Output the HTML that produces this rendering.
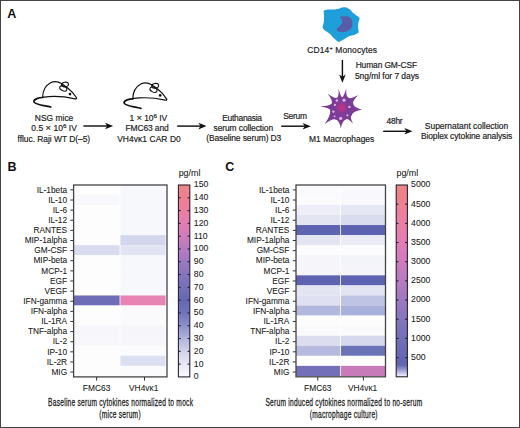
<!DOCTYPE html>
<html><head><meta charset="utf-8"><style>
html,body{margin:0;padding:0;background:#fff;width:520px;height:428px;overflow:hidden;font-family:"Liberation Sans",sans-serif;}
svg{display:block;}
</style></head><body>
<svg width="520" height="428" viewBox="0 0 520 428" font-family='"Liberation Sans", sans-serif'><rect x="0.5" y="0.5" width="519" height="427" fill="#fff" stroke="#444" stroke-width="1"/>
<text x="7.3" y="17.8" font-size="12.5" text-anchor="start" font-weight="bold" fill="#111" >A</text>
<text x="7.5" y="171.2" font-size="12.5" text-anchor="start" font-weight="bold" fill="#111" >B</text>
<text x="225.3" y="171.2" font-size="12.5" text-anchor="start" font-weight="bold" fill="#111" >C</text>
<line x1="83.4" y1="126" x2="108.2" y2="126" stroke="#111" stroke-width="1.45"/>
<path d="M113.2,126 L105.0,122.7 L107.2,126 L105.0,129.3 Z" fill="#111"/>
<line x1="177.2" y1="126.1" x2="201.5" y2="126.1" stroke="#111" stroke-width="1.45"/>
<path d="M206.5,126.1 L198.3,122.8 L200.5,126.1 L198.3,129.4 Z" fill="#111"/>
<line x1="281.3" y1="126.2" x2="305.8" y2="126.2" stroke="#111" stroke-width="1.45"/>
<path d="M310.8,126.2 L302.6,122.9 L304.8,126.2 L302.6,129.5 Z" fill="#111"/>
<line x1="383.2" y1="131.3" x2="407.5" y2="131.3" stroke="#111" stroke-width="1.45"/>
<path d="M412.5,131.3 L404.3,128.0 L406.5,131.3 L404.3,134.60000000000002 Z" fill="#111"/>
<line x1="342.4" y1="59.9" x2="342.4" y2="77.8" stroke="#111" stroke-width="1.45"/>
<path d="M342.4,82.8 L339.09999999999997,74.6 L342.4,76.8 L345.7,74.6 Z" fill="#111"/>
<g transform="translate(0.1,0.6)">
<g fill="none" stroke="#111" stroke-linecap="round" stroke-linejoin="round">
<path stroke-width="1.2" d="M42.5,96.8 C42.6,90 45.5,84.8 50.5,82.1 C54,80.5 58.2,80.9 61.3,82.9 C63.5,84.4 65.5,85.8 67.6,87.4 C71,90 74.3,93.8 76.4,97.2 C76.8,98 76.2,98.5 75,98.3 C68,96.7 58,95.5 49,96 C46.5,96.2 44.5,96.5 42.5,96.8"/>

<path stroke-width="1.75" d="M42.5,96.9 C38.5,97 34.4,98.6 33.7,100.5 C33.6,102.6 38,104 43.5,105 C46.2,105.5 48.5,106 50.6,106.4"/>
<ellipse cx="64.9" cy="83.9" rx="3.5" ry="2.3" transform="rotate(-12 64.9 83.9)" stroke-width="1.1"/>
<ellipse cx="63.2" cy="87.8" rx="3.7" ry="2.4" transform="rotate(25 63.2 87.8)" stroke-width="1.1"/>
</g>
<circle cx="69.9" cy="93.5" r="1.35" fill="#111"/>
</g>
<g transform="translate(90.3,1.9)">
<g fill="none" stroke="#111" stroke-linecap="round" stroke-linejoin="round">
<path stroke-width="1.2" d="M42.5,96.8 C42.6,90 45.5,84.8 50.5,82.1 C54,80.5 58.2,80.9 61.3,82.9 C63.5,84.4 65.5,85.8 67.6,87.4 C71,90 74.3,93.8 76.4,97.2 C76.8,98 76.2,98.5 75,98.3 C68,96.7 58,95.5 49,96 C46.5,96.2 44.5,96.5 42.5,96.8"/>

<path stroke-width="1.75" d="M42.5,96.9 C38.5,97 34.4,98.6 33.7,100.5 C33.6,102.6 38,104 43.5,105 C46.2,105.5 48.5,106 50.6,106.4"/>
<ellipse cx="64.9" cy="83.9" rx="3.5" ry="2.3" transform="rotate(-12 64.9 83.9)" stroke-width="1.1"/>
<ellipse cx="63.2" cy="87.8" rx="3.7" ry="2.4" transform="rotate(25 63.2 87.8)" stroke-width="1.1"/>
</g>
<circle cx="69.9" cy="93.5" r="1.35" fill="#111"/>
</g>
<path d="M323.90,10.70 C324.28,10.28 324.98,9.92 326.00,9.70 C327.02,9.48 328.67,9.45 330.00,9.40 C331.33,9.35 332.75,9.45 334.00,9.40 C335.25,9.35 336.50,9.28 337.50,9.10 C338.50,8.92 339.18,8.55 340.00,8.30 C340.82,8.05 341.57,7.77 342.40,7.60 C343.23,7.43 344.15,7.23 345.00,7.30 C345.85,7.37 346.65,7.62 347.50,8.00 C348.35,8.38 349.20,8.80 350.10,9.60 C351.00,10.40 351.78,11.77 352.90,12.80 C354.02,13.83 355.70,14.93 356.80,15.80 C357.90,16.67 359.13,17.17 359.50,18.00 C359.87,18.83 359.22,19.87 359.00,20.80 C358.78,21.73 358.35,22.48 358.20,23.60 C358.05,24.72 358.03,26.27 358.10,27.50 C358.17,28.73 358.55,30.12 358.60,31.00 C358.65,31.88 359.17,32.15 358.40,32.80 C357.63,33.45 355.48,34.37 354.00,34.90 C352.52,35.43 350.90,35.43 349.50,36.00 C348.10,36.57 346.88,37.53 345.60,38.30 C344.32,39.07 342.83,40.02 341.80,40.60 C340.77,41.18 340.10,41.63 339.40,41.80 C338.70,41.97 338.23,41.93 337.60,41.60 C336.97,41.27 336.40,40.53 335.60,39.80 C334.80,39.07 333.65,38.08 332.80,37.20 C331.95,36.32 331.38,35.32 330.50,34.50 C329.62,33.68 328.62,33.12 327.50,32.30 C326.38,31.48 324.62,30.52 323.80,29.60 C322.98,28.68 322.67,27.73 322.60,26.80 C322.53,25.87 323.17,25.13 323.40,24.00 C323.63,22.87 323.90,21.50 324.00,20.00 C324.10,18.50 324.05,16.30 324.00,15.00 C323.95,13.70 323.72,12.92 323.70,12.20 C323.68,11.48 323.52,11.12 323.90,10.70 Z" fill="#1f9fda"/>
<path d="M340.10,16.90 C340.68,16.40 343.65,16.20 345.30,16.30 C346.95,16.40 348.82,16.52 350.00,17.50 C351.18,18.48 352.20,20.35 352.40,22.20 C352.60,24.05 352.18,27.05 351.20,28.60 C350.22,30.15 348.07,30.92 346.50,31.50 C344.93,32.08 343.28,32.20 341.80,32.10 C340.32,32.00 338.43,31.45 337.60,30.90 C336.77,30.35 336.38,29.65 336.80,28.80 C337.22,27.95 339.20,26.80 340.10,25.80 C341.00,24.80 341.92,23.88 342.20,22.80 C342.48,21.72 342.15,20.28 341.80,19.30 C341.45,18.32 339.52,17.40 340.10,16.90 Z" fill="#585ea6"/>
<defs><radialGradient id="mg" cx="0.5" cy="0.5" r="0.5"><stop offset="0" stop-color="#bf3489"/><stop offset="0.4" stop-color="#a9378e"/><stop offset="1" stop-color="#7b3c98" stop-opacity="0"/></radialGradient></defs>
<path d="M338.60,88.40 Q340.52,96.42 342.20,97.20 Q343.75,96.42 346.30,88.40 Q345.67,96.60 348.60,97.80 Q350.71,99.41 358.30,95.10 Q352.09,101.21 353.20,103.80 Q353.65,107.34 362.00,109.70 Q353.17,110.82 351.60,115.40 Q349.47,116.74 353.20,123.80 Q347.79,117.94 346.00,119.40 Q342.58,119.88 340.80,128.40 Q339.40,119.88 335.40,119.40 Q332.56,118.15 324.50,124.30 Q331.00,115.33 330.20,110.00 Q329.23,107.90 320.30,106.60 Q329.71,105.98 331.80,103.60 Q332.78,100.48 327.60,93.50 Q334.34,98.74 337.00,97.80 Q338.96,96.60 338.60,88.40 Z" fill="#7a3c98"/>
<circle cx="341.6" cy="107.6" r="8" fill="url(#mg)"/>
<circle cx="344" cy="100.2" r="1.6" fill="#e4b3ea"/>
<circle cx="336.9" cy="100.5" r="1.2" fill="#e4b3ea"/>
<circle cx="334.9" cy="104.9" r="1.1" fill="#e4b3ea"/>
<circle cx="333.3" cy="111.6" r="1.2" fill="#e4b3ea"/>
<circle cx="334.6" cy="116.3" r="0.9" fill="#e4b3ea"/>
<circle cx="340.7" cy="118.4" r="1.6" fill="#e4b3ea"/>
<circle cx="347.4" cy="115.3" r="1.1" fill="#e4b3ea"/>
<circle cx="349.4" cy="106.9" r="1.2" fill="#e4b3ea"/>
<text x="54.1" y="121.3" font-size="8.45" text-anchor="middle" font-weight="normal" fill="#222" stroke="#222" stroke-width="0.18" letter-spacing="-0.0">NSG mice</text>
<text x="54.1" y="131.4" font-size="8.45" text-anchor="middle" font-weight="normal" fill="#222" stroke="#222" stroke-width="0.18" letter-spacing="0.036">0.5 <tspan font-size="9.3">×</tspan> 10<tspan dy="-3.3" font-size="6.2">6</tspan><tspan dy="3.3"> IV</tspan></text>
<text x="53.8" y="141.5" font-size="8.45" text-anchor="middle" font-weight="normal" fill="#222" stroke="#222" stroke-width="0.18" letter-spacing="-0.032">ffluc. Raji WT D(–5)</text>
<text x="148.3" y="121.2" font-size="8.45" text-anchor="middle" font-weight="normal" fill="#222" stroke="#222" stroke-width="0.18" letter-spacing="-0.022">1 <tspan font-size="9.3">×</tspan> 10<tspan dy="-3.3" font-size="6.2">6</tspan><tspan dy="3.3"> IV</tspan></text>
<text x="147.0" y="131.3" font-size="8.45" text-anchor="middle" font-weight="normal" fill="#222" stroke="#222" stroke-width="0.18" letter-spacing="-0.1">FMC63 and</text>
<text x="149.0" y="141.5" font-size="8.45" text-anchor="middle" font-weight="normal" fill="#222" stroke="#222" stroke-width="0.18" letter-spacing="0.067">VH4vκ1 CAR D0</text>
<text x="242.0" y="120.8" font-size="8.45" text-anchor="middle" font-weight="normal" fill="#222" stroke="#222" stroke-width="0.18" letter-spacing="-0.267">Euthanasia</text>
<text x="243.3" y="131.1" font-size="8.45" text-anchor="middle" font-weight="normal" fill="#222" stroke="#222" stroke-width="0.18" letter-spacing="-0.093">serum collection</text>
<text x="243.7" y="141.3" font-size="8.45" text-anchor="middle" font-weight="normal" fill="#222" stroke="#222" stroke-width="0.18" letter-spacing="-0.1">(Baseline serum) D3</text>
<text x="295.0" y="119.1" font-size="8.45" text-anchor="middle" font-weight="normal" fill="#222" stroke="#222" stroke-width="0.18" letter-spacing="-0.25">Serum</text>
<text x="341.7" y="141.8" font-size="8.45" text-anchor="middle" font-weight="normal" fill="#222" stroke="#222" stroke-width="0.18" letter-spacing="0.0">M1 Macrophages</text>
<text x="342.25" y="52.9" font-size="8.45" text-anchor="middle" font-weight="normal" fill="#222" stroke="#222" stroke-width="0.18" letter-spacing="0.129">CD14<tspan dy="-3.0" font-size="5.6">+</tspan><tspan dy="3.0"> Monocytes</tspan></text>
<text x="386.3" y="68.4" font-size="8.45" text-anchor="middle" font-weight="normal" fill="#222" stroke="#222" stroke-width="0.18" letter-spacing="-0.127">Human GM-CSF</text>
<text x="387.0" y="79.1" font-size="8.45" text-anchor="middle" font-weight="normal" fill="#222" stroke="#222" stroke-width="0.18" letter-spacing="-0.038">5ng/ml for 7 days</text>
<text x="394.5" y="123.8" font-size="8.45" text-anchor="middle" font-weight="normal" fill="#222" stroke="#222" stroke-width="0.18" letter-spacing="-0.267">48hr</text>
<text x="466.5" y="128.6" font-size="8.45" text-anchor="middle" font-weight="normal" fill="#222" stroke="#222" stroke-width="0.18" letter-spacing="-0.01">Supernatant collection</text>
<text x="466.5" y="138.8" font-size="8.45" text-anchor="middle" font-weight="normal" fill="#222" stroke="#222" stroke-width="0.18" letter-spacing="-0.108">Bioplex cytokine analysis</text>
<rect x="73.6" y="184.80" width="46.00" height="10.11" fill="#fdfdfe"/>
<rect x="120.4" y="184.80" width="45.20" height="10.11" fill="#f7f8fc"/>
<rect x="73.6" y="194.86" width="46.00" height="10.11" fill="#f8f8fc"/>
<rect x="120.4" y="194.86" width="45.20" height="10.11" fill="#f7f8fc"/>
<rect x="73.6" y="204.92" width="46.00" height="10.11" fill="#fdfdfe"/>
<rect x="120.4" y="204.92" width="45.20" height="10.11" fill="#f7f8fc"/>
<rect x="73.6" y="214.98" width="46.00" height="10.11" fill="#fdfdfe"/>
<rect x="120.4" y="214.98" width="45.20" height="10.11" fill="#f7f8fc"/>
<rect x="73.6" y="225.04" width="46.00" height="10.11" fill="#fdfdfe"/>
<rect x="120.4" y="225.04" width="45.20" height="10.11" fill="#f7f8fc"/>
<rect x="73.6" y="235.10" width="46.00" height="10.11" fill="#fdfdfe"/>
<rect x="120.4" y="235.10" width="45.20" height="10.11" fill="#d4d6ed"/>
<rect x="73.6" y="245.16" width="46.00" height="10.11" fill="#d9dbef"/>
<rect x="120.4" y="245.16" width="45.20" height="10.11" fill="#e3e4f3"/>
<rect x="73.6" y="255.22" width="46.00" height="10.11" fill="#fdfdfe"/>
<rect x="120.4" y="255.22" width="45.20" height="10.11" fill="#f7f8fc"/>
<rect x="73.6" y="265.28" width="46.00" height="10.11" fill="#fdfdfe"/>
<rect x="120.4" y="265.28" width="45.20" height="10.11" fill="#f7f8fc"/>
<rect x="73.6" y="275.34" width="46.00" height="10.11" fill="#fdfdfe"/>
<rect x="120.4" y="275.34" width="45.20" height="10.11" fill="#f7f8fc"/>
<rect x="73.6" y="285.40" width="46.00" height="10.11" fill="#fdfdfe"/>
<rect x="120.4" y="285.40" width="45.20" height="10.11" fill="#f7f8fc"/>
<rect x="73.6" y="295.46" width="46.00" height="10.11" fill="#6e6cb6"/>
<rect x="120.4" y="295.46" width="45.20" height="10.11" fill="#e884b4"/>
<rect x="73.6" y="305.52" width="46.00" height="10.11" fill="#fdfdfe"/>
<rect x="120.4" y="305.52" width="45.20" height="10.11" fill="#fafafd"/>
<rect x="73.6" y="315.58" width="46.00" height="10.11" fill="#fdfdfe"/>
<rect x="120.4" y="315.58" width="45.20" height="10.11" fill="#fafafd"/>
<rect x="73.6" y="325.64" width="46.00" height="10.11" fill="#f6f6fb"/>
<rect x="120.4" y="325.64" width="45.20" height="10.11" fill="#f5f5fa"/>
<rect x="73.6" y="335.70" width="46.00" height="10.11" fill="#f8f8fc"/>
<rect x="120.4" y="335.70" width="45.20" height="10.11" fill="#f7f7fb"/>
<rect x="73.6" y="345.76" width="46.00" height="10.11" fill="#fdfdfe"/>
<rect x="120.4" y="345.76" width="45.20" height="10.11" fill="#fbfbfe"/>
<rect x="73.6" y="355.82" width="46.00" height="10.11" fill="#fdfdfe"/>
<rect x="120.4" y="355.82" width="45.20" height="10.11" fill="#dcdff1"/>
<rect x="73.6" y="365.88" width="46.00" height="10.11" fill="#fdfdfe"/>
<rect x="120.4" y="365.88" width="45.20" height="10.11" fill="#fbfbfe"/>
<line x1="70.3" y1="189.90" x2="73.6" y2="189.90" stroke="#333" stroke-width="1"/>
<text x="67.1" y="192.60" font-size="8.3" text-anchor="end" font-weight="normal" fill="#222" stroke="#222" stroke-width="0.08" >IL-1beta</text>
<line x1="70.3" y1="200.02" x2="73.6" y2="200.02" stroke="#333" stroke-width="1"/>
<text x="67.1" y="202.72" font-size="8.3" text-anchor="end" font-weight="normal" fill="#222" stroke="#222" stroke-width="0.08" >IL-10</text>
<line x1="70.3" y1="210.14" x2="73.6" y2="210.14" stroke="#333" stroke-width="1"/>
<text x="67.1" y="212.84" font-size="8.3" text-anchor="end" font-weight="normal" fill="#222" stroke="#222" stroke-width="0.08" >IL-6</text>
<line x1="70.3" y1="220.26" x2="73.6" y2="220.26" stroke="#333" stroke-width="1"/>
<text x="67.1" y="222.96" font-size="8.3" text-anchor="end" font-weight="normal" fill="#222" stroke="#222" stroke-width="0.08" >IL-12</text>
<line x1="70.3" y1="230.38" x2="73.6" y2="230.38" stroke="#333" stroke-width="1"/>
<text x="67.1" y="233.08" font-size="8.3" text-anchor="end" font-weight="normal" fill="#222" stroke="#222" stroke-width="0.08" >RANTES</text>
<line x1="70.3" y1="240.50" x2="73.6" y2="240.50" stroke="#333" stroke-width="1"/>
<text x="67.1" y="243.20" font-size="8.3" text-anchor="end" font-weight="normal" fill="#222" stroke="#222" stroke-width="0.08" >MIP-1alpha</text>
<line x1="70.3" y1="250.62" x2="73.6" y2="250.62" stroke="#333" stroke-width="1"/>
<text x="67.1" y="253.32" font-size="8.3" text-anchor="end" font-weight="normal" fill="#222" stroke="#222" stroke-width="0.08" >GM-CSF</text>
<line x1="70.3" y1="260.74" x2="73.6" y2="260.74" stroke="#333" stroke-width="1"/>
<text x="67.1" y="263.44" font-size="8.3" text-anchor="end" font-weight="normal" fill="#222" stroke="#222" stroke-width="0.08" >MIP-beta</text>
<line x1="70.3" y1="270.86" x2="73.6" y2="270.86" stroke="#333" stroke-width="1"/>
<text x="67.1" y="273.56" font-size="8.3" text-anchor="end" font-weight="normal" fill="#222" stroke="#222" stroke-width="0.08" >MCP-1</text>
<line x1="70.3" y1="280.98" x2="73.6" y2="280.98" stroke="#333" stroke-width="1"/>
<text x="67.1" y="283.68" font-size="8.3" text-anchor="end" font-weight="normal" fill="#222" stroke="#222" stroke-width="0.08" >EGF</text>
<line x1="70.3" y1="291.10" x2="73.6" y2="291.10" stroke="#333" stroke-width="1"/>
<text x="67.1" y="293.80" font-size="8.3" text-anchor="end" font-weight="normal" fill="#222" stroke="#222" stroke-width="0.08" >VEGF</text>
<line x1="70.3" y1="301.22" x2="73.6" y2="301.22" stroke="#333" stroke-width="1"/>
<text x="67.1" y="303.92" font-size="8.3" text-anchor="end" font-weight="normal" fill="#222" stroke="#222" stroke-width="0.08" >IFN-gamma</text>
<line x1="70.3" y1="311.34" x2="73.6" y2="311.34" stroke="#333" stroke-width="1"/>
<text x="67.1" y="314.04" font-size="8.3" text-anchor="end" font-weight="normal" fill="#222" stroke="#222" stroke-width="0.08" >IFN-alpha</text>
<line x1="70.3" y1="321.46" x2="73.6" y2="321.46" stroke="#333" stroke-width="1"/>
<text x="67.1" y="324.16" font-size="8.3" text-anchor="end" font-weight="normal" fill="#222" stroke="#222" stroke-width="0.08" >IL-1RA</text>
<line x1="70.3" y1="331.58" x2="73.6" y2="331.58" stroke="#333" stroke-width="1"/>
<text x="67.1" y="334.28" font-size="8.3" text-anchor="end" font-weight="normal" fill="#222" stroke="#222" stroke-width="0.08" >TNF-alpha</text>
<line x1="70.3" y1="341.70" x2="73.6" y2="341.70" stroke="#333" stroke-width="1"/>
<text x="67.1" y="344.40" font-size="8.3" text-anchor="end" font-weight="normal" fill="#222" stroke="#222" stroke-width="0.08" >IL-2</text>
<line x1="70.3" y1="351.82" x2="73.6" y2="351.82" stroke="#333" stroke-width="1"/>
<text x="67.1" y="354.52" font-size="8.3" text-anchor="end" font-weight="normal" fill="#222" stroke="#222" stroke-width="0.08" >IP-10</text>
<line x1="70.3" y1="361.94" x2="73.6" y2="361.94" stroke="#333" stroke-width="1"/>
<text x="67.1" y="364.64" font-size="8.3" text-anchor="end" font-weight="normal" fill="#222" stroke="#222" stroke-width="0.08" >IL-2R</text>
<line x1="70.3" y1="372.06" x2="73.6" y2="372.06" stroke="#333" stroke-width="1"/>
<text x="67.1" y="374.76" font-size="8.3" text-anchor="end" font-weight="normal" fill="#222" stroke="#222" stroke-width="0.08" >MIG</text>
<rect x="73.6" y="185.0" width="93.4" height="191.89999999999998" fill="none" stroke="#444" stroke-width="1.3"/>
<rect x="296.0" y="184.80" width="44.20" height="10.11" fill="#fafafd"/>
<rect x="341.0" y="184.80" width="44.50" height="10.11" fill="#f9f9fd"/>
<rect x="296.0" y="194.86" width="44.20" height="10.11" fill="#fbfbfe"/>
<rect x="341.0" y="194.86" width="44.50" height="10.11" fill="#f9f9fd"/>
<rect x="296.0" y="204.92" width="44.20" height="10.11" fill="#eeeef8"/>
<rect x="341.0" y="204.92" width="44.50" height="10.11" fill="#e6e7f4"/>
<rect x="296.0" y="214.98" width="44.20" height="10.11" fill="#e4e5f3"/>
<rect x="341.0" y="214.98" width="44.50" height="10.11" fill="#d9dcef"/>
<rect x="296.0" y="225.04" width="44.20" height="10.11" fill="#5e63b1"/>
<rect x="341.0" y="225.04" width="44.50" height="10.11" fill="#5e63b1"/>
<rect x="296.0" y="235.10" width="44.20" height="10.11" fill="#e3e4f2"/>
<rect x="341.0" y="235.10" width="44.50" height="10.11" fill="#ebebf6"/>
<rect x="296.0" y="245.16" width="44.20" height="10.11" fill="#fcfcfe"/>
<rect x="341.0" y="245.16" width="44.50" height="10.11" fill="#fcfcfe"/>
<rect x="296.0" y="255.22" width="44.20" height="10.11" fill="#f5f5fa"/>
<rect x="341.0" y="255.22" width="44.50" height="10.11" fill="#f3f4fa"/>
<rect x="296.0" y="265.28" width="44.20" height="10.11" fill="#f5f5fa"/>
<rect x="341.0" y="265.28" width="44.50" height="10.11" fill="#f4f4fa"/>
<rect x="296.0" y="275.34" width="44.20" height="10.11" fill="#5e63b1"/>
<rect x="341.0" y="275.34" width="44.50" height="10.11" fill="#5e63b1"/>
<rect x="296.0" y="285.40" width="44.20" height="10.11" fill="#e4e5f3"/>
<rect x="341.0" y="285.40" width="44.50" height="10.11" fill="#e2e4f2"/>
<rect x="296.0" y="295.46" width="44.20" height="10.11" fill="#dfe0f1"/>
<rect x="341.0" y="295.46" width="44.50" height="10.11" fill="#c0c4e4"/>
<rect x="296.0" y="305.52" width="44.20" height="10.11" fill="#b2b7de"/>
<rect x="341.0" y="305.52" width="44.50" height="10.11" fill="#aab0dc"/>
<rect x="296.0" y="315.58" width="44.20" height="10.11" fill="#fdfdfe"/>
<rect x="341.0" y="315.58" width="44.50" height="10.11" fill="#fdfdfe"/>
<rect x="296.0" y="325.64" width="44.20" height="10.11" fill="#fafafd"/>
<rect x="341.0" y="325.64" width="44.50" height="10.11" fill="#fafafd"/>
<rect x="296.0" y="335.70" width="44.20" height="10.11" fill="#dcdef0"/>
<rect x="341.0" y="335.70" width="44.50" height="10.11" fill="#d6d9ee"/>
<rect x="296.0" y="345.76" width="44.20" height="10.11" fill="#b6badf"/>
<rect x="341.0" y="345.76" width="44.50" height="10.11" fill="#6a72b8"/>
<rect x="296.0" y="355.82" width="44.20" height="10.11" fill="#fdfdfe"/>
<rect x="341.0" y="355.82" width="44.50" height="10.11" fill="#fdfdfe"/>
<rect x="296.0" y="365.88" width="44.20" height="10.11" fill="#736fb8"/>
<rect x="341.0" y="365.88" width="44.50" height="10.11" fill="#c87bb9"/>
<line x1="292.8" y1="189.90" x2="296.0" y2="189.90" stroke="#333" stroke-width="1"/>
<text x="289.4" y="192.60" font-size="8.3" text-anchor="end" font-weight="normal" fill="#222" stroke="#222" stroke-width="0.08" >IL-1beta</text>
<line x1="292.8" y1="200.02" x2="296.0" y2="200.02" stroke="#333" stroke-width="1"/>
<text x="289.4" y="202.72" font-size="8.3" text-anchor="end" font-weight="normal" fill="#222" stroke="#222" stroke-width="0.08" >IL-10</text>
<line x1="292.8" y1="210.14" x2="296.0" y2="210.14" stroke="#333" stroke-width="1"/>
<text x="289.4" y="212.84" font-size="8.3" text-anchor="end" font-weight="normal" fill="#222" stroke="#222" stroke-width="0.08" >IL-6</text>
<line x1="292.8" y1="220.26" x2="296.0" y2="220.26" stroke="#333" stroke-width="1"/>
<text x="289.4" y="222.96" font-size="8.3" text-anchor="end" font-weight="normal" fill="#222" stroke="#222" stroke-width="0.08" >IL-12</text>
<line x1="292.8" y1="230.38" x2="296.0" y2="230.38" stroke="#333" stroke-width="1"/>
<text x="289.4" y="233.08" font-size="8.3" text-anchor="end" font-weight="normal" fill="#222" stroke="#222" stroke-width="0.08" >RANTES</text>
<line x1="292.8" y1="240.50" x2="296.0" y2="240.50" stroke="#333" stroke-width="1"/>
<text x="289.4" y="243.20" font-size="8.3" text-anchor="end" font-weight="normal" fill="#222" stroke="#222" stroke-width="0.08" >MIP-1alpha</text>
<line x1="292.8" y1="250.62" x2="296.0" y2="250.62" stroke="#333" stroke-width="1"/>
<text x="289.4" y="253.32" font-size="8.3" text-anchor="end" font-weight="normal" fill="#222" stroke="#222" stroke-width="0.08" >GM-CSF</text>
<line x1="292.8" y1="260.74" x2="296.0" y2="260.74" stroke="#333" stroke-width="1"/>
<text x="289.4" y="263.44" font-size="8.3" text-anchor="end" font-weight="normal" fill="#222" stroke="#222" stroke-width="0.08" >MIP-beta</text>
<line x1="292.8" y1="270.86" x2="296.0" y2="270.86" stroke="#333" stroke-width="1"/>
<text x="289.4" y="273.56" font-size="8.3" text-anchor="end" font-weight="normal" fill="#222" stroke="#222" stroke-width="0.08" >MCP-1</text>
<line x1="292.8" y1="280.98" x2="296.0" y2="280.98" stroke="#333" stroke-width="1"/>
<text x="289.4" y="283.68" font-size="8.3" text-anchor="end" font-weight="normal" fill="#222" stroke="#222" stroke-width="0.08" >EGF</text>
<line x1="292.8" y1="291.10" x2="296.0" y2="291.10" stroke="#333" stroke-width="1"/>
<text x="289.4" y="293.80" font-size="8.3" text-anchor="end" font-weight="normal" fill="#222" stroke="#222" stroke-width="0.08" >VEGF</text>
<line x1="292.8" y1="301.22" x2="296.0" y2="301.22" stroke="#333" stroke-width="1"/>
<text x="289.4" y="303.92" font-size="8.3" text-anchor="end" font-weight="normal" fill="#222" stroke="#222" stroke-width="0.08" >IFN-gamma</text>
<line x1="292.8" y1="311.34" x2="296.0" y2="311.34" stroke="#333" stroke-width="1"/>
<text x="289.4" y="314.04" font-size="8.3" text-anchor="end" font-weight="normal" fill="#222" stroke="#222" stroke-width="0.08" >IFN-alpha</text>
<line x1="292.8" y1="321.46" x2="296.0" y2="321.46" stroke="#333" stroke-width="1"/>
<text x="289.4" y="324.16" font-size="8.3" text-anchor="end" font-weight="normal" fill="#222" stroke="#222" stroke-width="0.08" >IL-1RA</text>
<line x1="292.8" y1="331.58" x2="296.0" y2="331.58" stroke="#333" stroke-width="1"/>
<text x="289.4" y="334.28" font-size="8.3" text-anchor="end" font-weight="normal" fill="#222" stroke="#222" stroke-width="0.08" >TNF-alpha</text>
<line x1="292.8" y1="341.70" x2="296.0" y2="341.70" stroke="#333" stroke-width="1"/>
<text x="289.4" y="344.40" font-size="8.3" text-anchor="end" font-weight="normal" fill="#222" stroke="#222" stroke-width="0.08" >IL-2</text>
<line x1="292.8" y1="351.82" x2="296.0" y2="351.82" stroke="#333" stroke-width="1"/>
<text x="289.4" y="354.52" font-size="8.3" text-anchor="end" font-weight="normal" fill="#222" stroke="#222" stroke-width="0.08" >IP-10</text>
<line x1="292.8" y1="361.94" x2="296.0" y2="361.94" stroke="#333" stroke-width="1"/>
<text x="289.4" y="364.64" font-size="8.3" text-anchor="end" font-weight="normal" fill="#222" stroke="#222" stroke-width="0.08" >IL-2R</text>
<line x1="292.8" y1="372.06" x2="296.0" y2="372.06" stroke="#333" stroke-width="1"/>
<text x="289.4" y="374.76" font-size="8.3" text-anchor="end" font-weight="normal" fill="#222" stroke="#222" stroke-width="0.08" >MIG</text>
<rect x="296.0" y="185.0" width="89.5" height="191.8" fill="none" stroke="#444" stroke-width="1.3"/>
<line x1="96.6" y1="377" x2="96.6" y2="380.6" stroke="#333" stroke-width="1"/>
<text x="96.6" y="390.5" font-size="8.4" text-anchor="middle" font-weight="normal" fill="#222" stroke="#222" stroke-width="0.08" >FMC63</text>
<line x1="144.5" y1="377" x2="144.5" y2="380.6" stroke="#333" stroke-width="1"/>
<text x="143.7" y="390.5" font-size="8.4" text-anchor="middle" font-weight="normal" fill="#222" stroke="#222" stroke-width="0.08" >VH4vκ1</text>
<line x1="317.8" y1="377" x2="317.8" y2="380.6" stroke="#333" stroke-width="1"/>
<text x="317.8" y="390.5" font-size="8.4" text-anchor="middle" font-weight="normal" fill="#222" stroke="#222" stroke-width="0.08" >FMC63</text>
<line x1="363.4" y1="377" x2="363.4" y2="380.6" stroke="#333" stroke-width="1"/>
<text x="362.59999999999997" y="390.5" font-size="8.4" text-anchor="middle" font-weight="normal" fill="#222" stroke="#222" stroke-width="0.08" >VH4vκ1</text>
<defs><linearGradient id="gB" x1="0" y1="1" x2="0" y2="0"><stop offset="0.0" stop-color="#fafaff"/><stop offset="0.06666666666666667" stop-color="#e8e8f4"/><stop offset="0.13333333333333333" stop-color="#d0d2ea"/><stop offset="0.2" stop-color="#b0b4dc"/><stop offset="0.26666666666666666" stop-color="#8c90c8"/><stop offset="0.3333333333333333" stop-color="#6f74bb"/><stop offset="0.4" stop-color="#6468b4"/><stop offset="0.4666666666666667" stop-color="#7470b8"/><stop offset="0.5333333333333333" stop-color="#8674be"/><stop offset="0.6" stop-color="#9c78c2"/><stop offset="0.6666666666666666" stop-color="#b87bc2"/><stop offset="0.7333333333333333" stop-color="#d27cbc"/><stop offset="0.8" stop-color="#e47db2"/><stop offset="0.8666666666666667" stop-color="#ec7ea0"/><stop offset="0.9333333333333333" stop-color="#f07f90"/><stop offset="1.0" stop-color="#ee8486"/></linearGradient></defs>
<rect x="178.4" y="185.0" width="11.400000000000006" height="191.89999999999998" fill="url(#gB)" stroke="#2a2230" stroke-width="1.1"/>
<text x="193.8" y="379.30" font-size="8.7" text-anchor="start" font-weight="normal" fill="#222" stroke="#222" stroke-width="0.08" >0</text>
<line x1="178.4" y1="364.11" x2="180.6" y2="364.11" stroke="#1e1a3a" stroke-width="1.1"/>
<line x1="187.60000000000002" y1="364.11" x2="189.8" y2="364.11" stroke="#1e1a3a" stroke-width="1.1"/>
<text x="193.8" y="366.51" font-size="8.7" text-anchor="start" font-weight="normal" fill="#222" stroke="#222" stroke-width="0.08" >10</text>
<line x1="178.4" y1="351.31" x2="180.6" y2="351.31" stroke="#1e1a3a" stroke-width="1.1"/>
<line x1="187.60000000000002" y1="351.31" x2="189.8" y2="351.31" stroke="#1e1a3a" stroke-width="1.1"/>
<text x="193.8" y="353.71" font-size="8.7" text-anchor="start" font-weight="normal" fill="#222" stroke="#222" stroke-width="0.08" >20</text>
<line x1="178.4" y1="338.52" x2="180.6" y2="338.52" stroke="#1e1a3a" stroke-width="1.1"/>
<line x1="187.60000000000002" y1="338.52" x2="189.8" y2="338.52" stroke="#1e1a3a" stroke-width="1.1"/>
<text x="193.8" y="340.92" font-size="8.7" text-anchor="start" font-weight="normal" fill="#222" stroke="#222" stroke-width="0.08" >30</text>
<line x1="178.4" y1="325.73" x2="180.6" y2="325.73" stroke="#1e1a3a" stroke-width="1.1"/>
<line x1="187.60000000000002" y1="325.73" x2="189.8" y2="325.73" stroke="#1e1a3a" stroke-width="1.1"/>
<text x="193.8" y="328.13" font-size="8.7" text-anchor="start" font-weight="normal" fill="#222" stroke="#222" stroke-width="0.08" >40</text>
<line x1="178.4" y1="312.93" x2="180.6" y2="312.93" stroke="#1e1a3a" stroke-width="1.1"/>
<line x1="187.60000000000002" y1="312.93" x2="189.8" y2="312.93" stroke="#1e1a3a" stroke-width="1.1"/>
<text x="193.8" y="315.33" font-size="8.7" text-anchor="start" font-weight="normal" fill="#222" stroke="#222" stroke-width="0.08" >50</text>
<line x1="178.4" y1="300.14" x2="180.6" y2="300.14" stroke="#1e1a3a" stroke-width="1.1"/>
<line x1="187.60000000000002" y1="300.14" x2="189.8" y2="300.14" stroke="#1e1a3a" stroke-width="1.1"/>
<text x="193.8" y="302.54" font-size="8.7" text-anchor="start" font-weight="normal" fill="#222" stroke="#222" stroke-width="0.08" >60</text>
<line x1="178.4" y1="287.35" x2="180.6" y2="287.35" stroke="#1e1a3a" stroke-width="1.1"/>
<line x1="187.60000000000002" y1="287.35" x2="189.8" y2="287.35" stroke="#1e1a3a" stroke-width="1.1"/>
<text x="193.8" y="289.75" font-size="8.7" text-anchor="start" font-weight="normal" fill="#222" stroke="#222" stroke-width="0.08" >70</text>
<line x1="178.4" y1="274.55" x2="180.6" y2="274.55" stroke="#1e1a3a" stroke-width="1.1"/>
<line x1="187.60000000000002" y1="274.55" x2="189.8" y2="274.55" stroke="#1e1a3a" stroke-width="1.1"/>
<text x="193.8" y="276.95" font-size="8.7" text-anchor="start" font-weight="normal" fill="#222" stroke="#222" stroke-width="0.08" >80</text>
<line x1="178.4" y1="261.76" x2="180.6" y2="261.76" stroke="#1e1a3a" stroke-width="1.1"/>
<line x1="187.60000000000002" y1="261.76" x2="189.8" y2="261.76" stroke="#1e1a3a" stroke-width="1.1"/>
<text x="193.8" y="264.16" font-size="8.7" text-anchor="start" font-weight="normal" fill="#222" stroke="#222" stroke-width="0.08" >90</text>
<line x1="178.4" y1="248.97" x2="180.6" y2="248.97" stroke="#1e1a3a" stroke-width="1.1"/>
<line x1="187.60000000000002" y1="248.97" x2="189.8" y2="248.97" stroke="#1e1a3a" stroke-width="1.1"/>
<text x="193.8" y="251.37" font-size="8.7" text-anchor="start" font-weight="normal" fill="#222" stroke="#222" stroke-width="0.08" >100</text>
<line x1="178.4" y1="236.17" x2="180.6" y2="236.17" stroke="#1e1a3a" stroke-width="1.1"/>
<line x1="187.60000000000002" y1="236.17" x2="189.8" y2="236.17" stroke="#1e1a3a" stroke-width="1.1"/>
<text x="193.8" y="238.57" font-size="8.7" text-anchor="start" font-weight="normal" fill="#222" stroke="#222" stroke-width="0.08" >110</text>
<line x1="178.4" y1="223.38" x2="180.6" y2="223.38" stroke="#1e1a3a" stroke-width="1.1"/>
<line x1="187.60000000000002" y1="223.38" x2="189.8" y2="223.38" stroke="#1e1a3a" stroke-width="1.1"/>
<text x="193.8" y="225.78" font-size="8.7" text-anchor="start" font-weight="normal" fill="#222" stroke="#222" stroke-width="0.08" >120</text>
<line x1="178.4" y1="210.59" x2="180.6" y2="210.59" stroke="#1e1a3a" stroke-width="1.1"/>
<line x1="187.60000000000002" y1="210.59" x2="189.8" y2="210.59" stroke="#1e1a3a" stroke-width="1.1"/>
<text x="193.8" y="212.99" font-size="8.7" text-anchor="start" font-weight="normal" fill="#222" stroke="#222" stroke-width="0.08" >130</text>
<line x1="178.4" y1="197.79" x2="180.6" y2="197.79" stroke="#1e1a3a" stroke-width="1.1"/>
<line x1="187.60000000000002" y1="197.79" x2="189.8" y2="197.79" stroke="#1e1a3a" stroke-width="1.1"/>
<text x="193.8" y="200.19" font-size="8.7" text-anchor="start" font-weight="normal" fill="#222" stroke="#222" stroke-width="0.08" >140</text>
<text x="193.8" y="187.40" font-size="8.7" text-anchor="start" font-weight="normal" fill="#222" stroke="#222" stroke-width="0.08" >150</text>
<text x="178.70000000000002" y="175.6" font-size="8.9" text-anchor="start" font-weight="normal" fill="#222" stroke="#222" stroke-width="0.08" >pg/ml</text>
<defs><linearGradient id="gC" x1="0" y1="1" x2="0" y2="0"><stop offset="0" stop-color="#f8f8ff"/><stop offset="0.03" stop-color="#a8acda"/><stop offset="0.06" stop-color="#6468b4"/><stop offset="0.08" stop-color="#6166b3"/><stop offset="0.21800000000000003" stop-color="#7470b9"/><stop offset="0.35600000000000004" stop-color="#9078c0"/><stop offset="0.49400000000000005" stop-color="#b67bc2"/><stop offset="0.6135999999999999" stop-color="#d27cbc"/><stop offset="0.724" stop-color="#e47db2"/><stop offset="0.8343999999999999" stop-color="#ec7fa0"/><stop offset="0.9264" stop-color="#f0808f"/><stop offset="1.0" stop-color="#ef8584"/></linearGradient></defs>
<rect x="396.2" y="185.0" width="11.199999999999989" height="191.8" fill="url(#gC)" stroke="#2a2230" stroke-width="1.1"/>
<line x1="396.2" y1="357.62" x2="398.4" y2="357.62" stroke="#1e1a3a" stroke-width="1.1"/>
<line x1="405.2" y1="357.62" x2="407.4" y2="357.62" stroke="#1e1a3a" stroke-width="1.1"/>
<text x="411.1" y="360.02" font-size="8.7" text-anchor="start" font-weight="normal" fill="#222" stroke="#222" stroke-width="0.08" >500</text>
<line x1="396.2" y1="338.44" x2="398.4" y2="338.44" stroke="#1e1a3a" stroke-width="1.1"/>
<line x1="405.2" y1="338.44" x2="407.4" y2="338.44" stroke="#1e1a3a" stroke-width="1.1"/>
<text x="411.1" y="340.84" font-size="8.7" text-anchor="start" font-weight="normal" fill="#222" stroke="#222" stroke-width="0.08" >1000</text>
<line x1="396.2" y1="319.26" x2="398.4" y2="319.26" stroke="#1e1a3a" stroke-width="1.1"/>
<line x1="405.2" y1="319.26" x2="407.4" y2="319.26" stroke="#1e1a3a" stroke-width="1.1"/>
<text x="411.1" y="321.66" font-size="8.7" text-anchor="start" font-weight="normal" fill="#222" stroke="#222" stroke-width="0.08" >1500</text>
<line x1="396.2" y1="300.08" x2="398.4" y2="300.08" stroke="#1e1a3a" stroke-width="1.1"/>
<line x1="405.2" y1="300.08" x2="407.4" y2="300.08" stroke="#1e1a3a" stroke-width="1.1"/>
<text x="411.1" y="302.48" font-size="8.7" text-anchor="start" font-weight="normal" fill="#222" stroke="#222" stroke-width="0.08" >2000</text>
<line x1="396.2" y1="280.90" x2="398.4" y2="280.90" stroke="#1e1a3a" stroke-width="1.1"/>
<line x1="405.2" y1="280.90" x2="407.4" y2="280.90" stroke="#1e1a3a" stroke-width="1.1"/>
<text x="411.1" y="283.30" font-size="8.7" text-anchor="start" font-weight="normal" fill="#222" stroke="#222" stroke-width="0.08" >2500</text>
<line x1="396.2" y1="261.72" x2="398.4" y2="261.72" stroke="#1e1a3a" stroke-width="1.1"/>
<line x1="405.2" y1="261.72" x2="407.4" y2="261.72" stroke="#1e1a3a" stroke-width="1.1"/>
<text x="411.1" y="264.12" font-size="8.7" text-anchor="start" font-weight="normal" fill="#222" stroke="#222" stroke-width="0.08" >3000</text>
<line x1="396.2" y1="242.54" x2="398.4" y2="242.54" stroke="#1e1a3a" stroke-width="1.1"/>
<line x1="405.2" y1="242.54" x2="407.4" y2="242.54" stroke="#1e1a3a" stroke-width="1.1"/>
<text x="411.1" y="244.94" font-size="8.7" text-anchor="start" font-weight="normal" fill="#222" stroke="#222" stroke-width="0.08" >3500</text>
<line x1="396.2" y1="223.36" x2="398.4" y2="223.36" stroke="#1e1a3a" stroke-width="1.1"/>
<line x1="405.2" y1="223.36" x2="407.4" y2="223.36" stroke="#1e1a3a" stroke-width="1.1"/>
<text x="411.1" y="225.76" font-size="8.7" text-anchor="start" font-weight="normal" fill="#222" stroke="#222" stroke-width="0.08" >4000</text>
<line x1="396.2" y1="204.18" x2="398.4" y2="204.18" stroke="#1e1a3a" stroke-width="1.1"/>
<line x1="405.2" y1="204.18" x2="407.4" y2="204.18" stroke="#1e1a3a" stroke-width="1.1"/>
<text x="411.1" y="206.58" font-size="8.7" text-anchor="start" font-weight="normal" fill="#222" stroke="#222" stroke-width="0.08" >4500</text>
<text x="411.1" y="187.40" font-size="8.7" text-anchor="start" font-weight="normal" fill="#222" stroke="#222" stroke-width="0.08" >5000</text>
<text x="396.5" y="175.6" font-size="8.9" text-anchor="start" font-weight="normal" fill="#222" stroke="#222" stroke-width="0.08" >pg/ml</text>
<text transform="translate(120.62255,405.9) scale(0.645,1)" x="0" y="0" letter-spacing="0.38" font-size="10.3" text-anchor="middle" fill="#1e1e1e" stroke="#1e1e1e" stroke-width="0.28">Baseline serum cytokines normalized to mock</text>
<text transform="translate(120.02255000000001,418.0) scale(0.645,1)" x="0" y="0" letter-spacing="0.38" font-size="10.3" text-anchor="middle" fill="#1e1e1e" stroke="#1e1e1e" stroke-width="0.28">(mice serum)</text>
<text transform="translate(343.92255,405.9) scale(0.645,1)" x="0" y="0" letter-spacing="0.38" font-size="10.3" text-anchor="middle" fill="#1e1e1e" stroke="#1e1e1e" stroke-width="0.28">Serum induced cytokines normalized to no-serum</text>
<text transform="translate(343.82255,418.0) scale(0.645,1)" x="0" y="0" letter-spacing="0.38" font-size="10.3" text-anchor="middle" fill="#1e1e1e" stroke="#1e1e1e" stroke-width="0.28">(macrophage culture)</text></svg>
</body></html>
